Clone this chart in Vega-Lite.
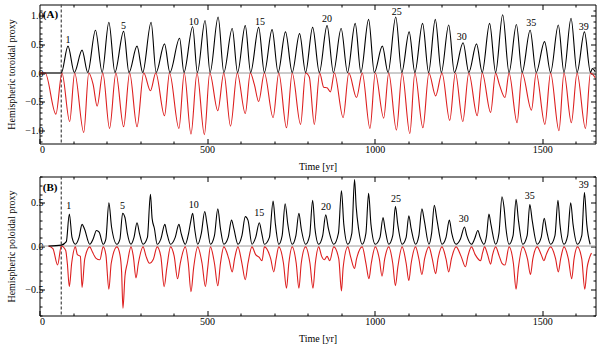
{
"$schema": "https://vega.github.io/schema/vega-lite/v6.json",
"padding": {"left": 5.5, "top": 2.5, "right": 1, "bottom": 2},
"spacing": 2,
"config": {
  "font": "Liberation Serif",
  "view": {"stroke": "#000", "strokeWidth": 1},
  "axis": {"grid": false, "domain": false, "labelFont": "Liberation Serif", "labelFontSize": 10, "titleFont": "Liberation Serif", "titleFontSize": 10, "titleFontWeight": "normal", "tickColor": "#000", "labelColor": "#000", "titleColor": "#000"}
},
"datasets": {
  "aN": [{"t":0,"v":0},{"t":65,"v":0},{"t":85,"v":0.47},{"t":104,"v":0.01},{"t":127,"v":0.40},{"t":144,"v":0.01},{"t":167,"v":0.75},{"t":187,"v":0.01},{"t":207,"v":0.89},{"t":225,"v":0.01},{"t":251,"v":0.73},{"t":267,"v":0.01},{"t":291,"v":0.47},{"t":308,"v":0.01},{"t":333,"v":0.89},{"t":348,"v":0.01},{"t":373,"v":0.51},{"t":389,"v":0.01},{"t":418,"v":0.61},{"t":431,"v":0.01},{"t":457,"v":0.81},{"t":471,"v":0.01},{"t":494,"v":0.92},{"t":509,"v":0.01},{"t":533,"v":0.98},{"t":550,"v":0.01},{"t":575,"v":0.78},{"t":591,"v":0.01},{"t":614,"v":0.83},{"t":630,"v":0.01},{"t":654,"v":0.80},{"t":671,"v":0.01},{"t":694,"v":0.76},{"t":712,"v":0.01},{"t":734,"v":0.72},{"t":754,"v":0.01},{"t":776,"v":0.69},{"t":794,"v":0.01},{"t":815,"v":0.80},{"t":835,"v":0.01},{"t":858,"v":0.83},{"t":877,"v":0.01},{"t":900,"v":0.78},{"t":919,"v":0.01},{"t":942,"v":0.87},{"t":959,"v":0.01},{"t":982,"v":0.94},{"t":999,"v":0.01},{"t":1023,"v":0.47},{"t":1040,"v":0.01},{"t":1063,"v":0.98},{"t":1081,"v":0.01},{"t":1103,"v":0.72},{"t":1120,"v":0.01},{"t":1143,"v":0.87},{"t":1161,"v":0.01},{"t":1181,"v":0.94},{"t":1199,"v":0.01},{"t":1221,"v":0.84},{"t":1238,"v":0.01},{"t":1264,"v":0.53},{"t":1281,"v":0.01},{"t":1304,"v":0.51},{"t":1321,"v":0.01},{"t":1343,"v":0.87},{"t":1361,"v":0.01},{"t":1382,"v":1.02},{"t":1401,"v":0.01},{"t":1423,"v":0.85},{"t":1440,"v":0.01},{"t":1464,"v":0.75},{"t":1482,"v":0.01},{"t":1507,"v":0.55},{"t":1525,"v":0.01},{"t":1548,"v":0.84},{"t":1565,"v":0.01},{"t":1586,"v":0.96},{"t":1604,"v":0.01},{"t":1626,"v":0.72},{"t":1644,"v":0.01},{"t":1650,"v":0.08},{"t":1658,"v":0.02}],
  "aS": [{"t":0,"v":0},{"t":17,"v":0},{"t":49,"v":-0.72},{"t":67,"v":0},{"t":90,"v":-0.85},{"t":105,"v":0},{"t":132,"v":-1.04},{"t":147,"v":0},{"t":160,"v":-0.2},{"t":172,"v":-0.58},{"t":189,"v":0},{"t":209,"v":-0.97},{"t":228,"v":0},{"t":251,"v":-0.94},{"t":269,"v":0},{"t":291,"v":-0.94},{"t":311,"v":0},{"t":331,"v":-0.31},{"t":347,"v":0},{"t":373,"v":-0.75},{"t":388,"v":0},{"t":416,"v":-0.97},{"t":432,"v":0},{"t":452,"v":-1.07},{"t":470,"v":0},{"t":492,"v":-1.08},{"t":508,"v":0},{"t":532,"v":-0.66},{"t":550,"v":0},{"t":570,"v":-0.93},{"t":590,"v":0},{"t":614,"v":-0.71},{"t":629,"v":0},{"t":641,"v":-0.2},{"t":654,"v":-0.5},{"t":671,"v":0},{"t":697,"v":-0.78},{"t":714,"v":0},{"t":737,"v":-0.96},{"t":754,"v":0},{"t":779,"v":-0.90},{"t":794,"v":0},{"t":805,"v":-0.07},{"t":820,"v":-0.90},{"t":836,"v":0},{"t":848,"v":-0.25},{"t":858,"v":-0.26},{"t":868,"v":-0.33},{"t":880,"v":0},{"t":906,"v":-0.78},{"t":923,"v":0},{"t":946,"v":-0.43},{"t":963,"v":0},{"t":986,"v":-0.97},{"t":1002,"v":0},{"t":1027,"v":-0.79},{"t":1042,"v":0},{"t":1065,"v":-1.0},{"t":1082,"v":0},{"t":1105,"v":-1.06},{"t":1120,"v":0},{"t":1144,"v":-0.96},{"t":1162,"v":0},{"t":1182,"v":-0.40},{"t":1201,"v":0},{"t":1224,"v":-0.83},{"t":1241,"v":0},{"t":1263,"v":-0.85},{"t":1281,"v":0},{"t":1306,"v":-0.75},{"t":1321,"v":0},{"t":1346,"v":-0.69},{"t":1361,"v":0},{"t":1372,"v":-0.2},{"t":1389,"v":-0.43},{"t":1401,"v":0},{"t":1425,"v":-0.87},{"t":1440,"v":0},{"t":1468,"v":-0.65},{"t":1482,"v":0},{"t":1508,"v":-0.90},{"t":1525,"v":0},{"t":1550,"v":-1.01},{"t":1565,"v":0},{"t":1587,"v":-0.87},{"t":1604,"v":0},{"t":1629,"v":-0.97},{"t":1644,"v":0},{"t":1658,"v":-0.08}],
  "bN": [{"t":27,"v":0},{"t":65,"v":0.01},{"t":80,"v":0.05},{"t":89,"v":0.37},{"t":97,"v":0.1},{"t":107,"v":0.02},{"t":118,"v":0.1},{"t":127,"v":0.25},{"t":134,"v":0.2},{"t":150,"v":0.02},{"t":160,"v":0.08},{"t":170,"v":0.18},{"t":178,"v":0.16},{"t":190,"v":0.02},{"t":198,"v":0.08},{"t":207,"v":0.50},{"t":215,"v":0.22},{"t":231,"v":0.02},{"t":240,"v":0.08},{"t":248,"v":0.38},{"t":255,"v":0.33},{"t":262,"v":0.15},{"t":273,"v":0.02},{"t":282,"v":0.1},{"t":291,"v":0.27},{"t":298,"v":0.15},{"t":309,"v":0.02},{"t":322,"v":0.1},{"t":331,"v":0.60},{"t":336,"v":0.32},{"t":343,"v":0.2},{"t":351,"v":0.02},{"t":362,"v":0.08},{"t":374,"v":0.25},{"t":380,"v":0.15},{"t":391,"v":0.02},{"t":405,"v":0.1},{"t":416,"v":0.25},{"t":423,"v":0.14},{"t":435,"v":0.02},{"t":445,"v":0.15},{"t":451,"v":0.28},{"t":457,"v":0.38},{"t":463,"v":0.2},{"t":472,"v":0.02},{"t":483,"v":0.15},{"t":493,"v":0.40},{"t":500,"v":0.25},{"t":510,"v":0.02},{"t":522,"v":0.12},{"t":532,"v":0.43},{"t":540,"v":0.2},{"t":550,"v":0.02},{"t":563,"v":0.1},{"t":573,"v":0.30},{"t":580,"v":0.2},{"t":592,"v":0.02},{"t":604,"v":0.12},{"t":614,"v":0.34},{"t":622,"v":0.3},{"t":634,"v":0.02},{"t":645,"v":0.1},{"t":656,"v":0.27},{"t":663,"v":0.15},{"t":671,"v":0.02},{"t":686,"v":0.1},{"t":697,"v":0.52},{"t":704,"v":0.25},{"t":714,"v":0.02},{"t":724,"v":0.12},{"t":733,"v":0.49},{"t":741,"v":0.25},{"t":754,"v":0.02},{"t":765,"v":0.12},{"t":774,"v":0.38},{"t":781,"v":0.2},{"t":794,"v":0.02},{"t":806,"v":0.12},{"t":815,"v":0.53},{"t":822,"v":0.2},{"t":833,"v":0.02},{"t":845,"v":0.12},{"t":854,"v":0.36},{"t":862,"v":0.2},{"t":878,"v":0.02},{"t":892,"v":0.15},{"t":901,"v":0.64},{"t":908,"v":0.25},{"t":920,"v":0.02},{"t":932,"v":0.15},{"t":940,"v":0.77},{"t":945,"v":0.45},{"t":952,"v":0.2},{"t":963,"v":0.02},{"t":974,"v":0.15},{"t":982,"v":0.61},{"t":989,"v":0.25},{"t":1002,"v":0.02},{"t":1016,"v":0.1},{"t":1025,"v":0.33},{"t":1031,"v":0.2},{"t":1042,"v":0.02},{"t":1054,"v":0.12},{"t":1062,"v":0.46},{"t":1069,"v":0.25},{"t":1082,"v":0.02},{"t":1094,"v":0.1},{"t":1102,"v":0.35},{"t":1109,"v":0.2},{"t":1122,"v":0.02},{"t":1132,"v":0.12},{"t":1141,"v":0.43},{"t":1148,"v":0.3},{"t":1162,"v":0.02},{"t":1170,"v":0.15},{"t":1178,"v":0.47},{"t":1186,"v":0.3},{"t":1201,"v":0.02},{"t":1213,"v":0.1},{"t":1223,"v":0.30},{"t":1230,"v":0.15},{"t":1243,"v":0.02},{"t":1256,"v":0.08},{"t":1268,"v":0.22},{"t":1275,"v":0.12},{"t":1289,"v":0.02},{"t":1298,"v":0.08},{"t":1308,"v":0.18},{"t":1315,"v":0.1},{"t":1326,"v":0.02},{"t":1334,"v":0.12},{"t":1341,"v":0.37},{"t":1347,"v":0.25},{"t":1361,"v":0.02},{"t":1371,"v":0.15},{"t":1380,"v":0.57},{"t":1386,"v":0.45},{"t":1392,"v":0.2},{"t":1401,"v":0.02},{"t":1413,"v":0.12},{"t":1422,"v":0.54},{"t":1429,"v":0.3},{"t":1442,"v":0.02},{"t":1455,"v":0.12},{"t":1463,"v":0.48},{"t":1470,"v":0.3},{"t":1485,"v":0.02},{"t":1497,"v":0.1},{"t":1506,"v":0.32},{"t":1513,"v":0.18},{"t":1525,"v":0.02},{"t":1538,"v":0.12},{"t":1547,"v":0.53},{"t":1553,"v":0.25},{"t":1565,"v":0.02},{"t":1576,"v":0.12},{"t":1585,"v":0.50},{"t":1592,"v":0.25},{"t":1605,"v":0.02},{"t":1618,"v":0.12},{"t":1626,"v":0.62},{"t":1633,"v":0.25},{"t":1643,"v":0.02}],
  "bS": [{"t":27,"v":0},{"t":40,"v":-0.03},{"t":54,"v":-0.22},{"t":65,"v":0},{"t":78,"v":-0.05},{"t":83,"v":-0.2},{"t":89,"v":-0.47},{"t":96,"v":-0.2},{"t":107,"v":-0.01},{"t":113,"v":-0.1},{"t":122,"v":-0.12},{"t":127,"v":-0.48},{"t":135,"v":-0.15},{"t":150,"v":-0.01},{"t":158,"v":-0.07},{"t":168,"v":-0.14},{"t":180,"v":-0.16},{"t":190,"v":-0.01},{"t":198,"v":-0.1},{"t":207,"v":-0.50},{"t":214,"v":-0.2},{"t":231,"v":-0.01},{"t":240,"v":-0.1},{"t":245,"v":-0.3},{"t":249,"v":-0.72},{"t":255,"v":-0.35},{"t":262,"v":-0.2},{"t":273,"v":-0.01},{"t":280,"v":-0.12},{"t":288,"v":-0.37},{"t":295,"v":-0.2},{"t":309,"v":-0.01},{"t":318,"v":-0.12},{"t":328,"v":-0.2},{"t":340,"v":-0.15},{"t":351,"v":-0.01},{"t":362,"v":-0.12},{"t":372,"v":-0.47},{"t":380,"v":-0.25},{"t":391,"v":-0.01},{"t":402,"v":-0.12},{"t":412,"v":-0.38},{"t":420,"v":-0.2},{"t":435,"v":-0.01},{"t":444,"v":-0.2},{"t":452,"v":-0.53},{"t":460,"v":-0.25},{"t":472,"v":-0.01},{"t":485,"v":-0.2},{"t":495,"v":-0.47},{"t":502,"v":-0.25},{"t":510,"v":-0.01},{"t":522,"v":-0.2},{"t":532,"v":-0.46},{"t":540,"v":-0.2},{"t":550,"v":-0.01},{"t":565,"v":-0.15},{"t":575,"v":-0.30},{"t":582,"v":-0.15},{"t":592,"v":-0.01},{"t":604,"v":-0.2},{"t":614,"v":-0.39},{"t":622,"v":-0.2},{"t":634,"v":-0.01},{"t":645,"v":-0.1},{"t":655,"v":-0.13},{"t":664,"v":-0.17},{"t":671,"v":-0.01},{"t":690,"v":-0.15},{"t":699,"v":-0.30},{"t":706,"v":-0.15},{"t":714,"v":-0.01},{"t":728,"v":-0.2},{"t":737,"v":-0.49},{"t":744,"v":-0.2},{"t":754,"v":-0.01},{"t":766,"v":-0.2},{"t":774,"v":-0.49},{"t":781,"v":-0.2},{"t":794,"v":-0.01},{"t":807,"v":-0.2},{"t":816,"v":-0.49},{"t":823,"v":-0.2},{"t":833,"v":-0.01},{"t":842,"v":-0.12},{"t":850,"v":-0.16},{"t":858,"v":-0.12},{"t":866,"v":-0.17},{"t":878,"v":-0.01},{"t":893,"v":-0.15},{"t":901,"v":-0.52},{"t":906,"v":-0.25},{"t":920,"v":-0.01},{"t":928,"v":-0.12},{"t":940,"v":-0.26},{"t":946,"v":-0.15},{"t":963,"v":-0.01},{"t":974,"v":-0.2},{"t":983,"v":-0.38},{"t":990,"v":-0.2},{"t":1002,"v":-0.01},{"t":1014,"v":-0.15},{"t":1022,"v":-0.35},{"t":1030,"v":-0.15},{"t":1042,"v":-0.01},{"t":1054,"v":-0.2},{"t":1062,"v":-0.46},{"t":1069,"v":-0.25},{"t":1082,"v":-0.01},{"t":1094,"v":-0.2},{"t":1102,"v":-0.40},{"t":1109,"v":-0.2},{"t":1122,"v":-0.01},{"t":1132,"v":-0.15},{"t":1141,"v":-0.33},{"t":1149,"v":-0.15},{"t":1162,"v":-0.01},{"t":1172,"v":-0.15},{"t":1182,"v":-0.32},{"t":1189,"v":-0.15},{"t":1201,"v":-0.01},{"t":1213,"v":-0.15},{"t":1221,"v":-0.30},{"t":1229,"v":-0.15},{"t":1243,"v":-0.01},{"t":1258,"v":-0.12},{"t":1271,"v":-0.24},{"t":1278,"v":-0.12},{"t":1289,"v":-0.01},{"t":1300,"v":-0.1},{"t":1316,"v":-0.17},{"t":1322,"v":-0.08},{"t":1328,"v":-0.01},{"t":1337,"v":-0.1},{"t":1346,"v":-0.21},{"t":1352,"v":-0.1},{"t":1361,"v":-0.01},{"t":1372,"v":-0.12},{"t":1380,"v":-0.20},{"t":1389,"v":-0.22},{"t":1401,"v":-0.01},{"t":1414,"v":-0.2},{"t":1422,"v":-0.50},{"t":1429,"v":-0.25},{"t":1442,"v":-0.01},{"t":1456,"v":-0.15},{"t":1465,"v":-0.33},{"t":1472,"v":-0.15},{"t":1485,"v":-0.01},{"t":1497,"v":-0.1},{"t":1505,"v":-0.17},{"t":1512,"v":-0.1},{"t":1525,"v":-0.01},{"t":1540,"v":-0.15},{"t":1548,"v":-0.30},{"t":1555,"v":-0.15},{"t":1565,"v":-0.01},{"t":1578,"v":-0.15},{"t":1588,"v":-0.38},{"t":1595,"v":-0.15},{"t":1605,"v":-0.01},{"t":1618,"v":-0.15},{"t":1627,"v":-0.50},{"t":1634,"v":-0.25},{"t":1640,"v":-0.15},{"t":1647,"v":-0.08}],
  "aL": [{"t":85,"v":0.57,"c":"1"},{"t":251,"v":0.82,"c":"5"},{"t":460,"v":0.90,"c":"10"},{"t":658,"v":0.90,"c":"15"},{"t":858,"v":0.94,"c":"20"},{"t":1066,"v":1.07,"c":"25"},{"t":1260,"v":0.63,"c":"30"},{"t":1467,"v":0.87,"c":"35"},{"t":1624,"v":0.81,"c":"39"}],
  "bL": [{"t":87,"v":0.465,"c":"1"},{"t":248,"v":0.465,"c":"5"},{"t":460,"v":0.48,"c":"10"},{"t":656,"v":0.38,"c":"15"},{"t":855,"v":0.45,"c":"20"},{"t":1064,"v":0.55,"c":"25"},{"t":1266,"v":0.31,"c":"30"},{"t":1463,"v":0.58,"c":"35"},{"t":1624,"v":0.71,"c":"39"}]
},
"vconcat": [
 {
  "width": 556, "height": 139,
  "resolve": {"axis": {"x": "independent", "y": "independent"}},
  "layer": [
   {"data": {"values": [{"z": 0}]}, "mark": {"type": "rule", "color": "#9a9a9a", "strokeWidth": 1},
    "encoding": {"y": {"field": "z", "type": "quantitative", "scale": {"domain": [-1.235, 1.2], "nice": false, "zero": false}, "axis": null}}},
   {"data": {"values": [{"d": 65}]}, "mark": {"type": "rule", "color": "#555", "strokeWidth": 1.3, "strokeDash": [3, 2]},
    "encoding": {"x": {"field": "d", "type": "quantitative", "scale": {"domain": [0, 1659], "nice": false, "zero": false}, "axis": null}}},
   {"data": {"name": "aS"}, "mark": {"type": "line", "color": "#dd1f1f", "strokeWidth": 1.1, "interpolate": "monotone"},
    "encoding": {
      "x": {"field": "t", "type": "quantitative", "scale": {"domain": [0, 1659], "nice": false, "zero": false},
            "axis": {"orient": "top", "title": null, "labels": false, "values": [100,200,300,400,500,600,700,800,900,1000,1100,1200,1300,1400,1500,1600], "tickSize": {"condition": {"test": "datum.value % 500 === 0", "value": -5}, "value": -2.5}}},
      "y": {"field": "v", "type": "quantitative", "scale": {"domain": [-1.235, 1.2], "nice": false, "zero": false},
            "axis": {"orient": "right", "title": null, "labels": false, "values": [-1.2,-1.1,-1.0,-0.9,-0.8,-0.7,-0.6,-0.5,-0.4,-0.3,-0.2,-0.1,0,0.1,0.2,0.3,0.4,0.5,0.6,0.7,0.8,0.9,1.0,1.1], "tickSize": {"condition": {"test": "abs(datum.value*2-round(datum.value*2))<0.001", "value": -5}, "value": -2.5}}}
    }},
   {"data": {"name": "aN"}, "mark": {"type": "line", "color": "#000", "strokeWidth": 1.1, "interpolate": "monotone"},
    "encoding": {
      "x": {"field": "t", "type": "quantitative", "scale": {"domain": [0, 1659], "nice": false, "zero": false},
            "axis": {"orient": "bottom", "title": "Time [yr]", "values": [0,100,200,300,400,500,600,700,800,900,1000,1100,1200,1300,1400,1500,1600], "labelExpr": "datum.value % 500 === 0 ? datum.label : ''", "format": "d", "tickSize": {"condition": {"test": "datum.value % 500 === 0", "value": -5}, "value": -2.5}, "labelPadding": 6, "titlePadding": 7}},
      "y": {"field": "v", "type": "quantitative", "scale": {"domain": [-1.235, 1.2], "nice": false, "zero": false},
            "axis": {"orient": "left", "title": "Hemispheric  toroidal  proxy", "values": [-1.2,-1.1,-1.0,-0.9,-0.8,-0.7,-0.6,-0.5,-0.4,-0.3,-0.2,-0.1,0,0.1,0.2,0.3,0.4,0.5,0.6,0.7,0.8,0.9,1.0,1.1], "format": ".1f", "labelExpr": "abs(datum.value*2-round(datum.value*2))<0.001 ? datum.label : ''", "tickSize": {"condition": {"test": "abs(datum.value*2-round(datum.value*2))<0.001", "value": -5}, "value": -2.5}, "labelPadding": 1.5, "titlePadding": 8}}
    }},
   {"data": {"name": "aL"}, "mark": {"type": "text", "font": "Liberation Serif", "fontSize": 10, "color": "#000", "baseline": "middle"},
    "encoding": {"x": {"field": "t", "type": "quantitative", "axis": null}, "y": {"field": "v", "type": "quantitative", "axis": null}, "text": {"field": "c"}}},
   {"data": {"values": [{"t": 10, "v": 1.01, "c": "(A)"}]}, "mark": {"type": "text", "font": "Liberation Serif", "fontSize": 11, "fontWeight": "bold", "color": "#000", "align": "left", "baseline": "middle"},
    "encoding": {"x": {"field": "t", "type": "quantitative", "axis": null}, "y": {"field": "v", "type": "quantitative", "axis": null}, "text": {"field": "c"}}}
  ]
 },
 {
  "width": 556, "height": 139,
  "resolve": {"axis": {"x": "independent", "y": "independent"}},
  "layer": [
   {"data": {"values": [{"z": 0}]}, "mark": {"type": "rule", "color": "#9a9a9a", "strokeWidth": 1},
    "encoding": {"y": {"field": "z", "type": "quantitative", "scale": {"domain": [-0.805, 0.805], "nice": false, "zero": false}, "axis": null}}},
   {"data": {"values": [{"d": 65}]}, "mark": {"type": "rule", "color": "#555", "strokeWidth": 1.3, "strokeDash": [3, 2]},
    "encoding": {"x": {"field": "d", "type": "quantitative", "scale": {"domain": [0, 1659], "nice": false, "zero": false}, "axis": null}}},
   {"data": {"name": "bS"}, "mark": {"type": "line", "color": "#dd1f1f", "strokeWidth": 1.1, "interpolate": "monotone"},
    "encoding": {
      "x": {"field": "t", "type": "quantitative", "scale": {"domain": [0, 1659], "nice": false, "zero": false},
            "axis": {"orient": "top", "title": null, "labels": false, "values": [100,200,300,400,500,600,700,800,900,1000,1100,1200,1300,1400,1500,1600], "tickSize": {"condition": {"test": "datum.value % 500 === 0", "value": -5}, "value": -2.5}}},
      "y": {"field": "v", "type": "quantitative", "scale": {"domain": [-0.805, 0.805], "nice": false, "zero": false},
            "axis": {"orient": "right", "title": null, "labels": false, "values": [-0.8,-0.7,-0.6,-0.5,-0.4,-0.3,-0.2,-0.1,0,0.1,0.2,0.3,0.4,0.5,0.6,0.7,0.8], "tickSize": {"condition": {"test": "abs(datum.value*2-round(datum.value*2))<0.001", "value": -5}, "value": -2.5}}}
    }},
   {"data": {"name": "bN"}, "mark": {"type": "line", "color": "#000", "strokeWidth": 1.1, "interpolate": "monotone"},
    "encoding": {
      "x": {"field": "t", "type": "quantitative", "scale": {"domain": [0, 1659], "nice": false, "zero": false},
            "axis": {"orient": "bottom", "title": "Time [yr]", "values": [0,100,200,300,400,500,600,700,800,900,1000,1100,1200,1300,1400,1500,1600], "labelExpr": "datum.value % 500 === 0 ? datum.label : ''", "format": "d", "tickSize": {"condition": {"test": "datum.value % 500 === 0", "value": -5}, "value": -2.5}, "labelPadding": 6, "titlePadding": 7}},
      "y": {"field": "v", "type": "quantitative", "scale": {"domain": [-0.805, 0.805], "nice": false, "zero": false},
            "axis": {"orient": "left", "title": "Hemispheric  poloidal  proxy", "values": [-0.8,-0.7,-0.6,-0.5,-0.4,-0.3,-0.2,-0.1,0,0.1,0.2,0.3,0.4,0.5,0.6,0.7,0.8], "format": ".1f", "labelExpr": "abs(datum.value*2-round(datum.value*2))<0.001 ? datum.label : ''", "tickSize": {"condition": {"test": "abs(datum.value*2-round(datum.value*2))<0.001", "value": -5}, "value": -2.5}, "labelPadding": 1.5, "titlePadding": 8}}
    }},
   {"data": {"name": "bL"}, "mark": {"type": "text", "font": "Liberation Serif", "fontSize": 10, "color": "#000", "baseline": "middle"},
    "encoding": {"x": {"field": "t", "type": "quantitative", "axis": null}, "y": {"field": "v", "type": "quantitative", "axis": null}, "text": {"field": "c"}}},
   {"data": {"values": [{"t": 10, "v": 0.67, "c": "(B)"}]}, "mark": {"type": "text", "font": "Liberation Serif", "fontSize": 11, "fontWeight": "bold", "color": "#000", "align": "left", "baseline": "middle"},
    "encoding": {"x": {"field": "t", "type": "quantitative", "axis": null}, "y": {"field": "v", "type": "quantitative", "axis": null}, "text": {"field": "c"}}}
  ]
 }
]
}
